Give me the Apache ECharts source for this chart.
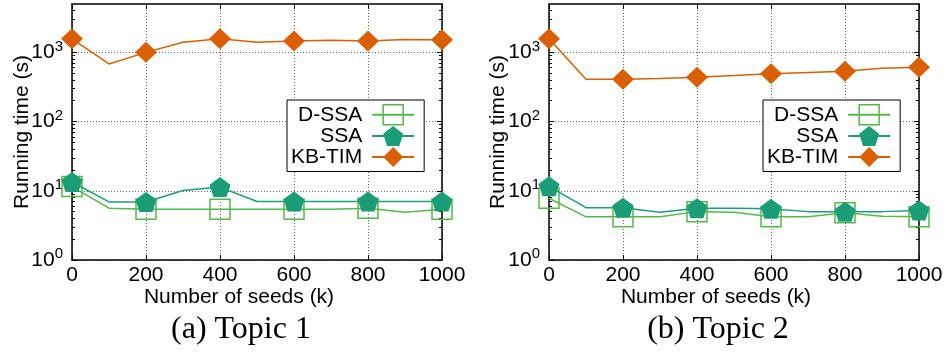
<!DOCTYPE html>
<html>
<head>
<meta charset="utf-8">
<script src="https://cdn.jsdelivr.net/npm/echarts@6/dist/echarts.min.js"></script>
<style>
  html, body { margin: 0; padding: 0; background: #fff; }
  #chart { width: 948px; height: 354px; }
</style>
</head>
<body>
<div id="chart"></div>
<script>
// Number of seeds (k)
const seeds = [0, 100, 200, 300, 400, 500, 600, 700, 800, 900, 1000];

// Running time (s), Topic 1
const topic1DSSA  = [11.5, 5.6, 5.4, 5.4, 5.4, 5.4, 5.4, 5.4, 5.6, 4.9, 5.4];
const topic1SSA   = [13.4, 6.9, 6.9, 10.1, 11.3, 7.0, 7.0, 7.0, 7.0, 7.0, 7.0];
const topic1KBTIM = [1570, 680, 1000, 1400, 1570, 1400, 1465, 1500, 1465, 1530, 1520];

// Running time (s), Topic 2
const topic2DSSA  = [7.8, 4.2, 4.2, 4.2, 5.0, 4.9, 4.2, 4.2, 4.8, 4.3, 4.2];
const topic2SSA   = [11.6, 5.7, 5.7, 4.9, 5.6, 5.6, 5.5, 5.0, 5.0, 5.0, 5.2];
const topic2KBTIM = [1570, 409, 409, 420, 437, 462, 490, 511, 534, 590, 610];

const seriesNames = ['D-SSA', 'SSA', 'KB-TIM'];
const yMajor = [1, 10, 100, 1000];
const yMinor = [2, 3, 4, 5, 6, 7, 8, 9, 20, 30, 40, 50, 60, 70, 80, 90,
                200, 300, 400, 500, 600, 700, 800, 900, 2000, 3000, 4000];
const panelCaptions = ['(a) Topic 1', '(b) Topic 2'];

const GREEN = '#55b84a', TEAL = '#1b9e77', ORANGE = '#d95f02';
const FONT = 'Liberation Sans, Arial, sans-serif';
const FS = 21;
const Y_MIN = 1, Y_MAX = 5000;
const PENTAGON = 'path://M0,-1L0.951,-0.309L0.588,0.809L-0.588,0.809L-0.951,-0.309Z';

const panels = [
  { left: 72, data: [topic1DSSA, topic1SSA, topic1KBTIM], yTitleX: 22, centerX: 239, legendLeft: 287 },
  { left: 549, data: [topic2DSSA, topic2SSA, topic2KBTIM], yTitleX: 498, centerX: 716, legendLeft: 763 }
];
const PLOT_W = 370, PLOT_TOP = 4, PLOT_BOTTOM = 94;

const styles = [
  { symbol: 'rect', size: 20, item: { color: 'rgba(0,0,0,0)', borderColor: GREEN, borderWidth: 1.5 }, line: GREEN },
  { symbol: PENTAGON, size: [21, 20], item: { color: TEAL }, line: TEAL },
  { symbol: 'diamond', size: [22, 21], item: { color: ORANGE }, line: ORANGE }
];

const grid = [], xAxis = [], yAxis = [], series = [], legend = [], graphic = [];

const supLabel = v => '{b|10}{s|' + Math.round(Math.log10(v)) + '}';

panels.forEach((p, pi) => {
  grid.push({ left: p.left, width: PLOT_W, top: PLOT_TOP, bottom: PLOT_BOTTOM });
  const axisLine = { show: true, lineStyle: { color: '#000', width: 1.5 } };
  const dotted = { show: true, lineStyle: { color: '#666', width: 1, type: [1, 2] } };

  // bottom axis with labels and grid lines
  xAxis.push({
    gridIndex: pi, type: 'value', min: 0, max: 1000, interval: 200, position: 'bottom',
    axisLine, axisTick: { show: true, inside: true, length: 5, lineStyle: { color: '#000' } },
    axisLabel: { color: '#000', fontSize: FS, fontFamily: FONT, margin: 5, formatter: v => String(v) },
    splitLine: dotted
  });
  // mirrored top axis
  xAxis.push({
    gridIndex: pi, type: 'value', min: 0, max: 1000, interval: 200, position: 'top',
    axisLine, axisTick: { show: true, inside: true, length: 5, lineStyle: { color: '#000' } },
    axisLabel: { show: false }, splitLine: { show: false }
  });

  const yBase = { gridIndex: pi, type: 'log', logBase: 10, min: Y_MIN, max: Y_MAX };
  // left axis: labels, major ticks, grid lines
  yAxis.push(Object.assign({}, yBase, {
    position: 'left', axisLine,
    axisTick: { show: true, inside: true, length: 5, customValues: yMajor, lineStyle: { color: '#000' } },
    axisLabel: {
      customValues: yMajor, formatter: supLabel, margin: 9,
      rich: {
        b: { fontSize: FS, fontFamily: FONT, color: '#000' },
        s: { fontSize: 15, fontFamily: FONT, color: '#000', padding: [0, 0, 12, 0] }
      }
    },
    splitLine: dotted
  }));
  // left minor ticks
  yAxis.push(Object.assign({}, yBase, {
    position: 'left', axisLine: { show: false },
    axisTick: { show: true, inside: true, length: 3, customValues: yMinor, lineStyle: { color: '#000' } },
    axisLabel: { show: false }, splitLine: { show: false }
  }));
  // right mirrored major and minor ticks
  yAxis.push(Object.assign({}, yBase, {
    position: 'right', axisLine,
    axisTick: { show: true, inside: true, length: 5, customValues: yMajor, lineStyle: { color: '#000' } },
    axisLabel: { show: false }, splitLine: { show: false }
  }));
  yAxis.push(Object.assign({}, yBase, {
    position: 'right', axisLine: { show: false },
    axisTick: { show: true, inside: true, length: 3, customValues: yMinor, lineStyle: { color: '#000' } },
    axisLabel: { show: false }, splitLine: { show: false }
  }));

  p.data.forEach((vals, si) => {
    const st = styles[si];
    series.push({
      name: seriesNames[si], type: 'line',
      xAxisIndex: pi * 2, yAxisIndex: pi * 4,
      symbol: st.symbol, symbolSize: st.size,
      itemStyle: st.item,
      lineStyle: { color: st.line, width: 1.5 },
      emphasis: { disabled: true },
      animation: false, z: 2 + si,
      // markers on every 200 seeds, plain line points in between
      data: seeds.map((s, i) => (s % 200 === 0)
        ? { value: [s, vals[i]] }
        : { value: [s, vals[i]], symbol: 'none' })
    });
  });

  legend.push({
    left: p.legendLeft, top: 100, orient: 'vertical', align: 'right',
    padding: [4, 9, 4, 4], itemGap: 0, itemWidth: 42, itemHeight: 25,
    borderColor: '#000', borderWidth: 1, backgroundColor: '#fff',
    selectedMode: false,
    textStyle: { fontSize: FS, fontFamily: FONT, color: '#000', width: 71, align: 'right', padding: [0, 5, 0, 0] },
    data: [
      { name: 'D-SSA', itemStyle: { color: 'rgba(0,0,0,0)', borderColor: GREEN, borderWidth: 1.5 } },
      { name: 'SSA', itemStyle: { color: TEAL, borderWidth: 0 } },
      { name: 'KB-TIM', itemStyle: { color: ORANGE, borderWidth: 0 } }
    ]
  });

  graphic.push({
    type: 'text', x: p.yTitleX, y: 132, rotation: Math.PI / 2,
    style: { text: 'Running time (s)', font: FS + 'px ' + FONT, fill: '#000', align: 'center', verticalAlign: 'middle' }
  });
  graphic.push({
    type: 'text', x: p.centerX, y: 297,
    style: { text: 'Number of seeds (k)', font: FS + 'px ' + FONT, fill: '#000', align: 'center', verticalAlign: 'middle' }
  });
  graphic.push({
    type: 'text', x: p.centerX + 2, y: 330,
    style: { text: panelCaptions[pi], font: '32px Liberation Serif, Times New Roman, serif', fill: '#000', align: 'center', verticalAlign: 'middle' }
  });
});

const chart = echarts.init(document.getElementById('chart'), null, { renderer: 'canvas' });
chart.setOption({ animation: false, grid, xAxis, yAxis, series, legend, graphic });
</script>
</body>
</html>
